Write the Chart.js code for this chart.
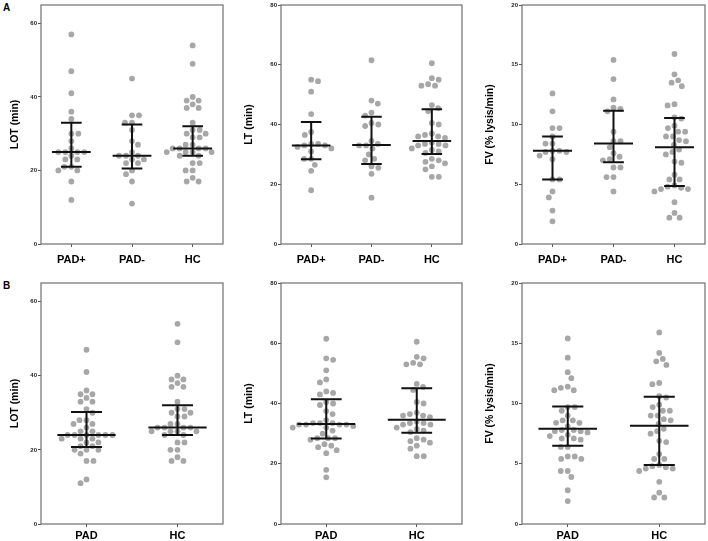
<!DOCTYPE html>
<html><head><meta charset="utf-8">
<script src="https://cdn.jsdelivr.net/npm/chart.js@4.4.1/dist/chart.umd.min.js"></script>
<style>
html,body{margin:0;padding:0;background:#fff;}
#wrap{position:relative;width:708px;height:541px;overflow:hidden;background:#fff;}
canvas{position:absolute;}
.lbl{position:absolute;font:bold 10px "Liberation Sans",Arial,sans-serif;color:#000;line-height:10px;}
</style></head><body>
<div id="wrap">
<div class="lbl" style="left:3px;top:3px">A</div>
<div class="lbl" style="left:3px;top:281px">B</div>
<canvas id="c1" width="232" height="270" style="left:0px;top:0px"></canvas>
<canvas id="c2" width="232" height="270" style="left:236px;top:0px"></canvas>
<canvas id="c3" width="236" height="270" style="left:472px;top:0px"></canvas>
<canvas id="c4" width="232" height="271" style="left:0px;top:270px"></canvas>
<canvas id="c5" width="232" height="271" style="left:236px;top:270px"></canvas>
<canvas id="c6" width="236" height="271" style="left:472px;top:270px"></canvas>
</div>
<script>
// ---- categories ----
const catsA = ['PAD+', 'PAD-', 'HC'];
const catsB = ['PAD', 'HC'];

// ---- tick labels ----
const lotTicks = [0, 20, 40, 60];
const ltTicks = [0, 20, 40, 60, 80];
const fvTicks = [0, 5, 10, 15, 20];

// ---- LOT (min) ----
const lotPadPlus = [57, 47, 41, 36, 34, 30, 30, 28, 26, 25, 25, 25, 25, 24, 23, 23, 21, 21, 20, 20, 17, 12];
const lotPadMinus = [45, 35, 35, 33, 33, 31, 28, 27, 25, 24, 24, 24, 23, 23, 22, 22, 20, 19, 17, 11];
const lotHC = [54, 49, 40, 39, 39, 38, 37, 37, 33, 31, 31, 30, 30, 29, 29, 27, 27, 26, 26, 26, 26, 25, 25, 25, 25, 24, 24, 22, 22, 20, 20, 18, 17, 17];
const lotPadB = [47, 41, 36, 35, 35, 34, 33, 33, 31, 30, 28, 28, 27, 27, 26, 25, 25, 24, 24, 24, 24, 24, 24, 23, 23, 23, 22, 22, 21, 21, 20, 20, 20, 19, 17, 17, 12, 11];

// ---- LT (min) ----
const ltPadPlus = [55, 54.5, 51, 43.5, 37.5, 36.5, 33.5, 33.5, 33, 33, 32.5, 32, 31, 28.5, 28.5, 26.5, 24.5, 18];
const ltPadMinus = [61.5, 48, 47, 44, 43, 40.5, 40, 39.5, 34.5, 33.5, 33, 33, 32, 30, 28.5, 28, 26, 25.5, 23.5, 15.5];
const ltHC = [60.5, 55.5, 55, 53.5, 53, 53, 46.5, 45.5, 44.5, 40.5, 40, 37, 36.5, 36, 36, 35.5, 34, 33.5, 33.5, 33, 33, 32, 31.5, 31, 30.5, 28.5, 28, 27.5, 27, 26, 25, 22.5, 22.5];

// ---- FV (% lysis/min) ----
const fvPadPlus = [12.6, 11.1, 9.7, 9.7, 9.0, 8.4, 8.4, 7.8, 7.8, 7.7, 7.7, 7.4, 7.1, 5.4, 5.4, 4.4, 3.9, 2.8, 1.9];
const fvPadMinus = [15.4, 13.8, 12.1, 11.4, 11.3, 11.1, 9.4, 8.6, 8.6, 8.1, 7.6, 7.3, 7.1, 7.0, 6.4, 6.4, 5.6, 5.6, 4.4];
const fvHC = [15.9, 14.2, 13.7, 13.5, 13.2, 11.7, 11.6, 10.6, 10.5, 9.9, 9.7, 9.4, 9.4, 9.0, 9.0, 8.7, 8.6, 8.3, 7.9, 7.7, 7.5, 6.9, 6.8, 5.8, 5.4, 5.4, 4.9, 4.8, 4.7, 4.6, 4.6, 4.4, 3.5, 2.6, 2.2, 2.2];

// ---- medians and interquartile ranges ----
const lotMedA = [25, 24, 26], lotQ1A = [21, 20.5, 24], lotQ3A = [33, 32.5, 32];
const lotMedB = [24, 26], lotQ1B = [20.8, 24], lotQ3B = [30.2, 32];
const ltMedA = [33, 33.1, 34.5], ltQ1A = [28.4, 26.8, 30.1], ltQ3A = [40.8, 42.6, 45.1];
const ltMedB = [33.2, 34.6], ltQ1B = [28.4, 30.3], ltQ3B = [41.4, 45.1];
const fvMedA = [7.8, 8.4, 8.1], fvQ1A = [5.4, 6.85, 4.85], fvQ3A = [9.0, 11.15, 10.55];
const fvMedB = [7.9, 8.15], fvQ1B = [6.5, 4.9], fvQ3B = [9.75, 10.55];

// ---- style / layout constants ----
const FONT = '"Liberation Sans", Arial, sans-serif';
const DOT_COLOR = '#a7a7a7';
const DOT_R = 2.9;
const MIN_DIST = 7;   // px: minimal dot centre distance in the swarm

// beeswarm layout computed from the values (closest free x offset to the centre)
function swarm(values, cat, pxPerY, pxPerX) {
  const sorted = values.slice().sort((a, b) => b - a);
  const placed = [];
  const out = [];
  let side = 1;
  for (const v of sorted) {
    const py = v * pxPerY;
    const blocks = [];
    placed.forEach(p => {
      const dy = Math.abs(p.py - py);
      if (dy < MIN_DIST) {
        const w = Math.sqrt(MIN_DIST * MIN_DIST - dy * dy);
        blocks.push([p.px - w, p.px + w]);
      }
    });
    const cands = [0];
    blocks.forEach(b => { cands.push(b[0] - 0.01, b[1] + 0.01); });
    const free = cands.filter(c => blocks.every(b => c <= b[0] || c >= b[1]));
    free.sort((a, b) => {
      const d = Math.abs(a) - Math.abs(b);
      if (Math.abs(d) > 0.5) return d;
      return (b * side) - (a * side);
    });
    const px = free[0];
    if (Math.abs(px) > 0.5) side = -Math.sign(px);
    placed.push({px, py});
    out.push({x: cat + px / pxPerX, y: v});
  }
  return out;
}

const barsPlugin = {
  id: 'barsPlugin',
  afterDatasetsDraw(chart) {
    const o = chart.options.plugins.barsPlugin;
    const {ctx, chartArea: a} = chart;
    const xs = chart.scales.x, ys = chart.scales.y;
    ctx.save();
    ctx.strokeStyle = '#111';
    ctx.lineWidth = 2;
    ctx.lineCap = 'butt';
    o.med.forEach((m, i) => {
      const c = i + 1;
      const cx = xs.getPixelForValue(c);
      const mh = xs.getPixelForValue(c + 0.32) - cx;
      const ch = xs.getPixelForValue(c + 0.17) - cx;
      const ym = ys.getPixelForValue(m), y1 = ys.getPixelForValue(o.q1[i]), y3 = ys.getPixelForValue(o.q3[i]);
      ctx.beginPath();
      ctx.moveTo(cx - mh, ym); ctx.lineTo(cx + mh, ym);
      ctx.moveTo(cx, y3); ctx.lineTo(cx, y1);
      ctx.moveTo(cx - ch, y3); ctx.lineTo(cx + ch, y3);
      ctx.moveTo(cx - ch, y1); ctx.lineTo(cx + ch, y1);
      ctx.stroke();
    });
    ctx.strokeStyle = '#6f6f6f';
    ctx.lineWidth = 1.2;
    ctx.strokeRect(a.left, a.top, a.right - a.left, a.bottom - a.top);
    ctx.restore();
  }
};

function makePanel(p) {
  const n = p.cats.length;
  const canvas = document.getElementById(p.id);
  const plotW = canvas.width - p.yW - p.padR;
  const plotH = canvas.height - p.padT - p.xH;
  const pxPerX = plotW / n;
  const pxPerY = plotH / p.yMax;
  const data = [];
  p.groups.forEach((g, i) => swarm(g, i + 1, pxPerY, pxPerX).forEach(pt => data.push(pt)));
  new Chart(canvas, {
    type: 'scatter',
    data: {datasets: [{data, backgroundColor: DOT_COLOR, borderWidth: 0, pointRadius: DOT_R, pointHoverRadius: DOT_R}]},
    plugins: [barsPlugin],
    options: {
      responsive: false, animation: false, devicePixelRatio: 1,
      layout: {padding: {left: 0, top: p.padT, right: p.padR, bottom: 0}},
      plugins: {
        legend: {display: false}, tooltip: {enabled: false},
        barsPlugin: {med: p.med, q1: p.q1, q3: p.q3}
      },
      scales: {
        x: {
          type: 'linear', min: 0.5, max: n + 0.5,
          afterBuildTicks: s => { s.ticks = p.cats.map((c, i) => ({value: i + 1})); },
          afterFit: s => { s.height = p.xH; },
          ticks: {callback: v => p.cats[v - 1], autoSkip: false, maxRotation: 0, padding: p.xPad,
                  color: '#000', font: {family: FONT, size: 11, weight: 'bold'}},
          grid: {drawOnChartArea: false, drawTicks: true, tickLength: 3, tickColor: '#555'},
          border: {display: false}
        },
        y: {
          type: 'linear', min: 0, max: p.yMax,
          afterBuildTicks: s => { s.ticks = p.ticks.map(v => ({value: v})); },
          afterFit: s => { s.width = p.yW; },
          ticks: {padding: 1, color: '#222', font: {family: FONT, size: 6, weight: 'bold'}},
          grid: {drawOnChartArea: false, drawTicks: true, tickLength: 3, tickColor: '#555'},
          border: {display: false},
          title: {display: true, text: p.title, color: '#000', padding: {top: p.tPad, bottom: 0},
                  font: {family: FONT, size: 10.5, weight: 'bold'}}
        }
      }
    }
  });
}

const panels = [
  {id: 'c1', yW: 41, padR: 9, padT: 5, xH: 26, xPad: 6, cats: catsA, groups: [lotPadPlus, lotPadMinus, lotHC],
   yMax: 65, ticks: lotTicks, title: 'LOT (min)', tPad: 8.5, med: lotMedA, q1: lotQ1A, q3: lotQ3A},
  {id: 'c2', yW: 45, padR: 6, padT: 5, xH: 26, xPad: 6, cats: catsA, groups: [ltPadPlus, ltPadMinus, ltHC],
   yMax: 80, ticks: ltTicks, title: 'LT (min)', tPad: 6.8, med: ltMedA, q1: ltQ1A, q3: ltQ3A},
  {id: 'c3', yW: 50, padR: 3, padT: 5, xH: 26, xPad: 6, cats: catsA, groups: [fvPadPlus, fvPadMinus, fvHC],
   yMax: 20, ticks: fvTicks, title: 'FV (% lysis/min)', tPad: 12, med: fvMedA, q1: fvQ1A, q3: fvQ3A},
  {id: 'c4', yW: 41, padR: 9, padT: 13, xH: 17, xPad: 2, cats: catsB, groups: [lotPadB, lotHC],
   yMax: 65, ticks: lotTicks, title: 'LOT (min)', tPad: 8.5, med: lotMedB, q1: lotQ1B, q3: lotQ3B},
  {id: 'c5', yW: 45, padR: 6, padT: 13, xH: 17, xPad: 2, cats: catsB, groups: [ltPadPlus.concat(ltPadMinus), ltHC],
   yMax: 80, ticks: ltTicks, title: 'LT (min)', tPad: 6.8, med: ltMedB, q1: ltQ1B, q3: ltQ3B},
  {id: 'c6', yW: 50, padR: 3, padT: 13, xH: 17, xPad: 2, cats: catsB, groups: [fvPadPlus.concat(fvPadMinus), fvHC],
   yMax: 20, ticks: fvTicks, title: 'FV (% lysis/min)', tPad: 12, med: fvMedB, q1: fvQ1B, q3: fvQ3B}
];
panels.forEach(makePanel);
</script>
</body></html>
